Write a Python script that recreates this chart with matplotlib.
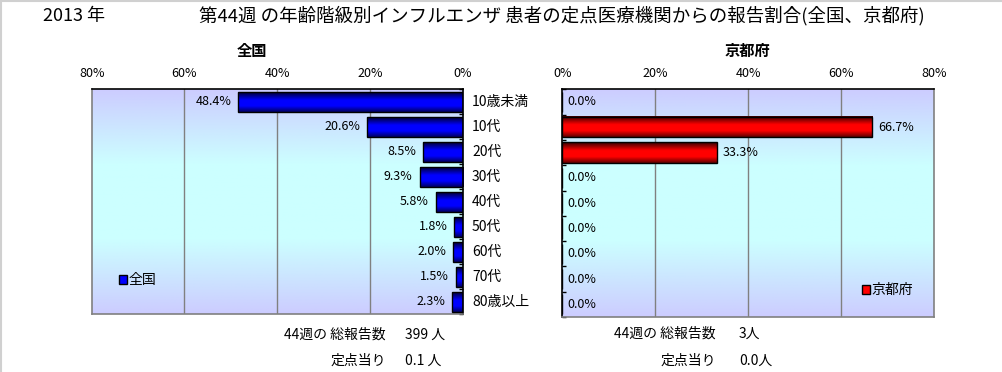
import numpy as np
import matplotlib
matplotlib.use("Agg")
import matplotlib.pyplot as plt
import matplotlib.transforms as mtransforms
from matplotlib.colors import LinearSegmentedColormap
from matplotlib.patches import Patch
from matplotlib.lines import Line2D

plt.rcParams['font.family'] = ['Noto Sans CJK JP', 'DejaVu Sans']

# data
age_groups = ["10歳未満", "10代", "20代", "30代", "40代", "50代", "60代", "70代", "80歳以上"]
national = [48.4, 20.6, 8.5, 9.3, 5.8, 1.8, 2.0, 1.5, 2.3]
kyoto = [0.0, 66.7, 33.3, 0.0, 0.0, 0.0, 0.0, 0.0, 0.0]
pct_ticks = [0, 20, 40, 60, 80]
national_total = "399 人"
national_per = "0.1 人"
kyoto_total = "3人"
kyoto_per = "0.0人"

W, H = 1002, 372
fig = plt.figure(figsize=(W / 100, H / 100), dpi=100)
fig.patch.set_facecolor("white")

def fx(px):
    return px / W

def fy(py):
    return 1 - py / H

bg_cmap = LinearSegmentedColormap.from_list("bg", ["#CCCCFF", "#CCFFFF", "#CCFFFF", "#CCCCFF"])
blue_cmap = LinearSegmentedColormap.from_list(
    "blue", [(0, "#000033"), (0.4, "#0000FF"), (0.7, "#0000FF"), (1, "#000060")])
red_cmap = LinearSegmentedColormap.from_list(
    "red", [(0, "#330000"), (0.4, "#FF0000"), (0.7, "#FF0000"), (1, "#600000")])
grad = np.linspace(0, 1, 64).reshape(-1, 1)


def draw_panel(rect, values, cmap, left_side):
    ax = fig.add_axes(rect)
    ax.imshow(np.linspace(0, 1, 256).reshape(-1, 1), cmap=bg_cmap, aspect="auto",
              extent=[0, 1, 0, 1], transform=ax.transAxes, zorder=0)
    y = np.arange(len(values))
    for i, v in enumerate(values):
        if v > 0:
            ax.imshow(grad, cmap=cmap, aspect="auto", extent=[0, v, i + 0.4, i - 0.4],
                      zorder=2, interpolation="bilinear")
    ax.barh(y, values, height=0.8, facecolor="none", edgecolor="black", lw=1, zorder=3)
    for i, v in enumerate(values):
        if left_side:
            ax.annotate(f"{v:.1f}%", (v, i), xytext=(-5, 0), textcoords="offset points",
                        ha="right", va="center", fontsize=9, zorder=4)
        else:
            ax.annotate(f"{v:.1f}%", (v, i), xytext=(4, 0), textcoords="offset points",
                        ha="left", va="center", fontsize=9, zorder=4)
    ax.set_xlim(80, 0) if left_side else ax.set_xlim(0, 80)
    ax.set_ylim(len(values) - 0.5, -0.5)
    ax.xaxis.tick_top()
    ax.set_xticks(pct_ticks)
    ax.set_xticklabels([f"{t}%" for t in pct_ticks], fontsize=9)
    ax.tick_params(axis="x", length=0, pad=7)
    ax.set_yticks(np.arange(-0.5, len(values), 1))
    ax.set_yticklabels([])
    if left_side:
        ax.yaxis.tick_right()
    ax.tick_params(axis="y", direction="in", length=3, width=1, color="black")
    for t in [20, 40, 60]:
        ax.axvline(t, color="#808080", lw=1, zorder=1)
    for s in ax.spines.values():
        s.set_color("#808080")
        s.set_linewidth(1.2)
    ax.spines["top"].set_color("black")
    ax.spines["right" if left_side else "left"].set_color("black")
    return ax


ax1 = draw_panel([fx(91.7), fy(314.3), fx(371), (314.3 - 89.3) / H], national, blue_cmap, True)
ax2 = draw_panel([fx(562.3), fy(317), fx(372), (317 - 89.3) / H], kyoto, red_cmap, False)

# category labels between the panels
tr = mtransforms.blended_transform_factory(fig.transFigure, ax1.transData)
for i, g in enumerate(age_groups):
    fig.text(fx(472), i, g, transform=tr, ha="left", va="center", fontsize=10)

# legends
ax1.legend(handles=[Patch(facecolor="#0000FF", edgecolor="black", label="全国")],
           loc="center left", bbox_to_anchor=(fx(119), fy(280)), bbox_transform=fig.transFigure,
           frameon=False, fontsize=10, handlelength=0.6, handleheight=0.6,
           handletextpad=0.1, borderpad=0, borderaxespad=0)
ax2.legend(handles=[Patch(facecolor="#FF0000", edgecolor="black", label="京都府")],
           loc="center left", bbox_to_anchor=(fx(862), fy(290)), bbox_transform=fig.transFigure,
           frameon=False, fontsize=10, handlelength=0.6, handleheight=0.6,
           handletextpad=0.1, borderpad=0, borderaxespad=0)

# titles
fig.text(fx(43), fy(16), "2013 年", ha="left", va="center", fontsize=13)
fig.text(fx(199), fy(16), "第44週 の年齢階級別インフルエンザ 患者の定点医療機関からの報告割合(全国、京都府)",
         ha="left", va="center", fontsize=13.3)
fig.text(fx(252), fy(51), "全国", ha="center", va="center", fontsize=11, fontweight="bold")
fig.text(fx(747), fy(51), "京都府", ha="center", va="center", fontsize=11, fontweight="bold")

# report counts below
fig.text(fx(386), fy(335), "44週の 総報告数", ha="right", va="center", fontsize=10)
fig.text(fx(405), fy(335), national_total, ha="left", va="center", fontsize=10)
fig.text(fx(386), fy(361), "定点当り", ha="right", va="center", fontsize=10)
fig.text(fx(405), fy(361), national_per, ha="left", va="center", fontsize=10)
fig.text(fx(716), fy(334), "44週の 総報告数", ha="right", va="center", fontsize=10)
fig.text(fx(739), fy(334), kyoto_total, ha="left", va="center", fontsize=10)
fig.text(fx(716), fy(361), "定点当り", ha="right", va="center", fontsize=10)
fig.text(fx(739), fy(361), kyoto_per, ha="left", va="center", fontsize=10)

# light frame on the left and top edges
fig.add_artist(Line2D([0.0005, 0.0005], [0, 1], transform=fig.transFigure, color="#D0D0D0", lw=1.5))
fig.add_artist(Line2D([0, 1], [0.9985, 0.9985], transform=fig.transFigure, color="#D0D0D0", lw=1.5))

fig.savefig("out.png", dpi=100)
